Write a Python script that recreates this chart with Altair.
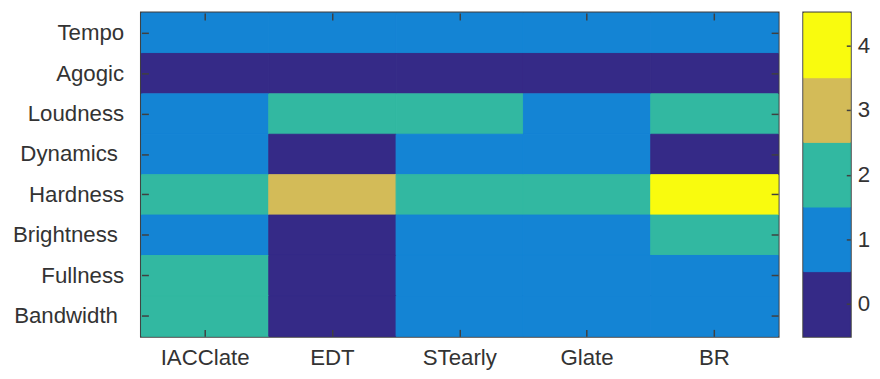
import altair as alt
import pandas as pd

PAD = "\u00a0\u2060"
rows = ["Tempo", "Agogic", "Loudness", "Dynamics" + PAD, "Hardness", "Brightness" + PAD,
        "Fullness", "Bandwidth" + PAD]
cols = ["IACClate", "EDT", "STearly", "Glate", "BR"]

tempo      = [1, 1, 1, 1, 1]
agogic     = [0, 0, 0, 0, 0]
loudness   = [1, 2, 2, 1, 2]
dynamics   = [1, 0, 1, 1, 0]
hardness   = [2, 3, 2, 2, 4]
brightness = [1, 0, 1, 1, 2]
fullness   = [2, 0, 1, 1, 1]
bandwidth  = [2, 0, 1, 1, 1]

levels = [0, 1, 2, 3, 4]
colors = ["#352a87", "#1484d4", "#32b8a1", "#d3bb58", "#f9fb0e"]

matrix = [tempo, agogic, loudness, dynamics, hardness, brightness, fullness, bandwidth]
records = []
for r, vals in zip(rows, matrix):
    for c, v in zip(cols, vals):
        records.append({"row": r, "col": c, "value": v})
df = pd.DataFrame(records)

FONT = "Liberation Sans"
FS = 22.5
LC = "#333333"
TC = "#404040"
H = 327

cscale = alt.Scale(domain=levels, range=colors)
band = alt.Scale(paddingInner=0, paddingOuter=0)

main = alt.Chart(df).mark_rect(strokeWidth=1).encode(
    x=alt.X("col:N", sort=cols, scale=band, title=None,
            axis=alt.Axis(orient="bottom", labelAngle=0, labelFontSize=FS, labelFont=FONT,
                          labelColor=LC, labelPadding=11, tickSize=7, offset=-7, tickColor=TC,
                          tickWidth=1.5, domain=False, grid=False, zindex=1)),
    y=alt.Y("row:N", sort=rows, scale=band, title=None,
            axis=alt.Axis(orient="left", labelFontSize=FS, labelFont=FONT, labelColor=LC,
                          labelPadding=18, tickSize=7, offset=-7, tickColor=TC, tickWidth=1.5,
                          domain=False, grid=False, zindex=1)),
    color=alt.Color("value:O", scale=cscale, legend=None),
    stroke=alt.Stroke("value:O", scale=cscale, legend=None),
)

ticks2 = alt.Chart(df).mark_rect(opacity=0).encode(
    x=alt.X("col:N", sort=cols, scale=band, title=None,
            axis=alt.Axis(orient="top", labels=False, tickSize=7, offset=-7, tickColor=TC,
                          tickWidth=1.5, domain=False, grid=False, zindex=1)),
    y=alt.Y("row:N", sort=rows, scale=band, title=None,
            axis=alt.Axis(orient="right", labels=False, tickSize=7, offset=-7, tickColor=TC,
                          tickWidth=1.5, domain=False, grid=False, zindex=1)),
)

heat = alt.layer(main, ticks2).resolve_scale(x="independent", y="independent").properties(
    width=644, height=H)

cbar = alt.Chart(pd.DataFrame({"level": levels})).transform_calculate(
    lo="datum.level - 0.5", hi="datum.level + 0.5"
).mark_rect(strokeWidth=1).encode(
    y=alt.Y("lo:Q", scale=alt.Scale(domain=[-0.5, 4.5], nice=False, zero=False), title=None,
            axis=alt.Axis(orient="right", values=levels, format="d", labelFontSize=FS,
                          labelFont=FONT, labelColor=LC, labelPadding=7, tickSize=4, offset=-4,
                          tickColor=TC, tickWidth=1.5, domain=False, grid=False, zindex=1)),
    y2="hi:Q",
    color=alt.Color("level:O", scale=cscale, legend=None),
    stroke=alt.Stroke("level:O", scale=cscale, legend=None),
).properties(width=47, height=H)

chart = alt.hconcat(heat, cbar, spacing=21).configure(
    padding={"left": 2, "top": 0, "right": 0, "bottom": 0}
).configure_view(stroke="#404040", strokeWidth=3)

chart.save("out.html", embed_options={"renderer": "svg", "actions": False})
